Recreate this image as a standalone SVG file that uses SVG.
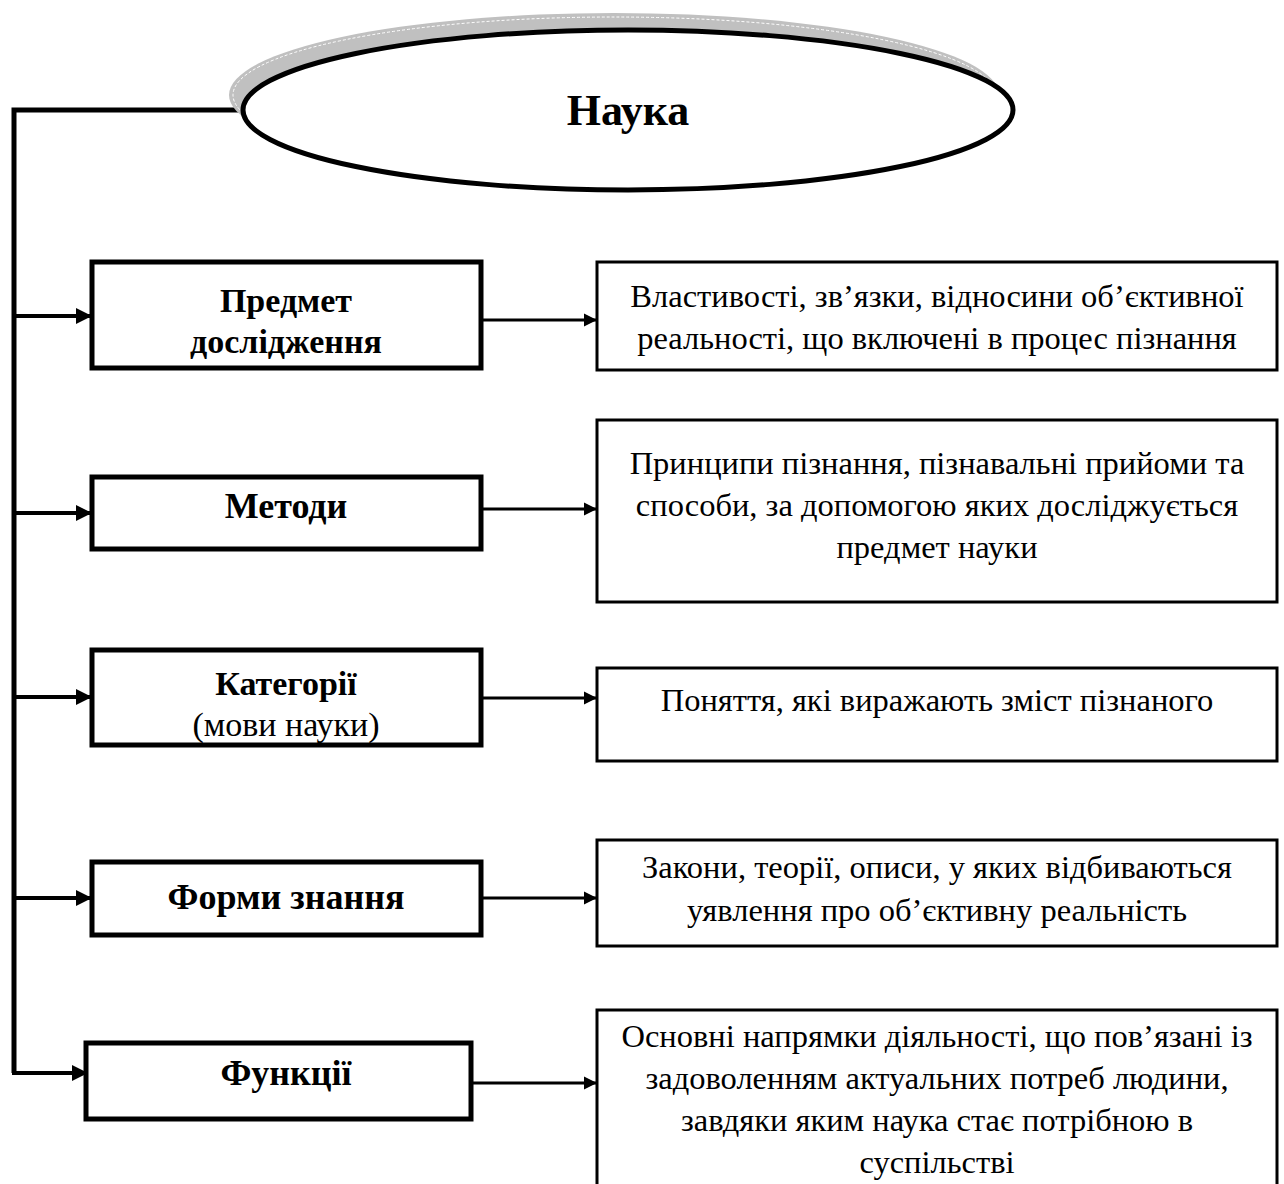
<svg xmlns="http://www.w3.org/2000/svg" width="1284" height="1184" viewBox="0 0 1284 1184">
<style>
.lbox{fill:#fff;stroke:#000;stroke-width:5}
.rbox{fill:#fff;stroke:#000;stroke-width:3}
.lt{font-family:"Liberation Serif","Times New Roman",serif;font-size:34px;font-weight:bold;text-anchor:middle;fill:#000}
.ltr{font-family:"Liberation Serif","Times New Roman",serif;font-size:34px;text-anchor:middle;fill:#000}
.rt{font-family:"Liberation Serif","Times New Roman",serif;font-size:32.5px;text-anchor:middle;fill:#000}
.trunk{fill:none;stroke:#000;stroke-width:5}
.la{fill:none;stroke:#000;stroke-width:4;marker-end:url(#ah)}
.ra{fill:none;stroke:#000;stroke-width:3;marker-end:url(#ah2)}
</style>
<defs>
<marker id="ah" markerWidth="4" markerHeight="4" refX="4" refY="2" orient="auto" markerUnits="strokeWidth"><path d="M0,0 L4,2 L0,4 z" fill="#000"/></marker>
<marker id="ah2" markerWidth="4.5" markerHeight="4.5" refX="4.5" refY="2.25" orient="auto" markerUnits="strokeWidth"><path d="M0,0 L4.5,2.25 L0,4.5 z" fill="#000"/></marker>
</defs>
<rect width="1284" height="1184" fill="#fff"/>
<g id="connectors">
<path class="trunk" d="M243,110 H14 V1073"/>
<path class="la" d="M12,1073 H88"/>
<path class="la" d="M14,316 H92"/>
<path class="la" d="M14,513 H92"/>
<path class="la" d="M14,697 H92"/>
<path class="la" d="M14,898 H92"/>
<path class="ra" d="M481,320 H597"/>
<path class="ra" d="M481,509 H597"/>
<path class="ra" d="M481,698 H597"/>
<path class="ra" d="M481,898 H597"/>
<path class="ra" d="M471,1083 H597"/>
</g>
<g id="node-nauka">
<ellipse cx="614" cy="95" rx="385" ry="82" fill="#c0c0c0"/>
<ellipse cx="614" cy="95" rx="381" ry="78" fill="none" stroke="#fff" stroke-width="1" stroke-dasharray="3,2"/>
<ellipse cx="628" cy="110" rx="385" ry="80" fill="#fff" stroke="#000" stroke-width="5"/>
<text x="628" y="125" class="lt" style="font-size:44px">Наука</text>
</g>
<g id="node-predmet">
<rect class="lbox" x="92" y="262" width="389" height="106"/>
<text class="lt" x="286" y="312">Предмет</text>
<text class="lt" x="286" y="353">дослідження</text>
</g>
<g id="node-metody">
<rect class="lbox" x="92" y="477" width="389" height="72"/>
<text class="lt" x="286" y="518" style="font-size:36px">Методи</text>
</g>
<g id="node-katehorii">
<rect class="lbox" x="92" y="650" width="389" height="95"/>
<text class="lt" x="286" y="695">Категорії</text>
<text class="ltr" x="286" y="736">(мови науки)</text>
</g>
<g id="node-formy">
<rect class="lbox" x="92" y="862" width="389" height="73"/>
<text class="lt" x="286" y="909" style="font-size:36px">Форми знання</text>
</g>
<g id="node-funktsii">
<rect class="lbox" x="86" y="1043" width="385" height="76"/>
<text class="lt" x="286" y="1085" style="font-size:36px">Функції</text>
</g>
<g id="node-r1">
<rect class="rbox" x="597" y="262" width="680" height="108"/>
<text class="rt" x="937" y="307">Властивості, зв’язки, відносини об’єктивної</text>
<text class="rt" x="937" y="349">реальності, що включені в процес пізнання</text>
</g>
<g id="node-r2">
<rect class="rbox" x="597" y="420" width="680" height="182"/>
<text class="rt" x="937" y="474">Принципи пізнання, пізнавальні прийоми та</text>
<text class="rt" x="937" y="516">способи, за допомогою яких досліджується</text>
<text class="rt" x="937" y="558">предмет науки</text>
</g>
<g id="node-r3">
<rect class="rbox" x="597" y="668" width="680" height="93"/>
<text class="rt" x="937" y="711">Поняття, які виражають зміст пізнаного</text>
</g>
<g id="node-r4">
<rect class="rbox" x="597" y="840" width="680" height="106"/>
<text class="rt" x="937" y="878">Закони, теорії, описи, у яких відбиваються</text>
<text class="rt" x="937" y="921">уявлення про об’єктивну реальність</text>
</g>
<g id="node-r5">
<path class="rbox" d="M597,1195 V1010 H1277 V1195"/>
<text class="rt" x="937" y="1047">Основні напрямки діяльності, що пов’язані із</text>
<text class="rt" x="937" y="1089">задоволенням актуальних потреб людини,</text>
<text class="rt" x="937" y="1131">завдяки яким наука стає потрібною в</text>
<text class="rt" x="937" y="1173">суспільстві</text>
</g>
</svg>
